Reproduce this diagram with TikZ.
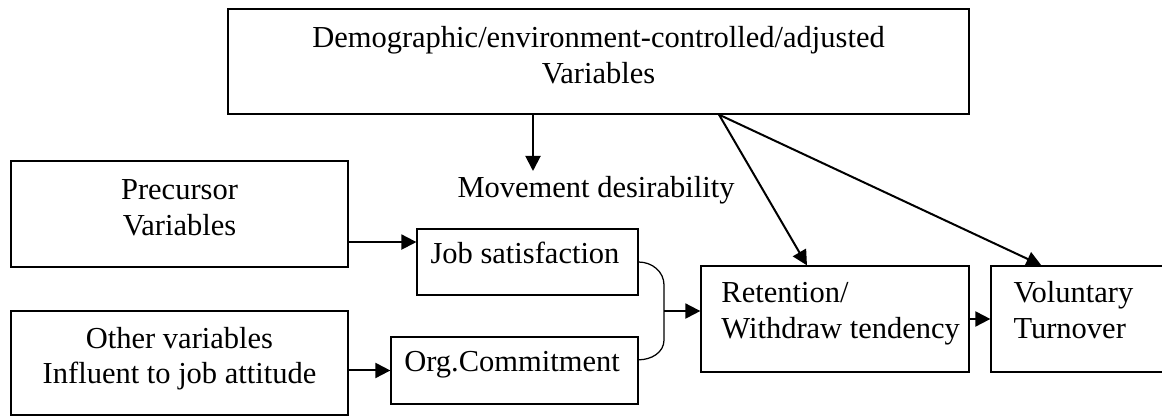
\documentclass[tikz,border=0pt]{standalone}
\usepackage{fontspec}
\setmainfont{Liberation Serif}
\usetikzlibrary{arrows.meta,calc}
\begin{document}
\begin{tikzpicture}[font=\fontsize{12.2}{14.4}\selectfont,>={Triangle[length=6pt,width=6pt]},
  box/.style={draw,line width=0.5pt,inner sep=0pt},
  txt/.style={anchor=base,align=center,inner sep=0pt},
  arr/.style={->,line width=0.8pt}]
\useasboundingbox (0,0) rectangle (16.338,5.849);
\node[box,minimum width=10.418cm,minimum height=1.476cm] (demo) at (8.415,4.984) {};
\node[txt] (demotxt) at (8.415,4.682) {Demographic/environment-controlled/adjusted\\Variables};
\node[txt] (move) at (8.380,3.079) {Movement desirability};
\node[box,minimum width=4.738cm,minimum height=1.490cm] (prec) at (2.524,2.840) {};
\node[txt] (prectxt) at (2.524,2.531) {Precursor\\Variables};
\node[box,minimum width=4.738cm,minimum height=1.462cm] (other) at (2.524,0.745) {};
\node[txt] (othertxt) at (2.524,0.450) {Other variables\\Influent to job attitude};
\node[box,minimum width=3.107cm,minimum height=0.928cm] (jobsat) at (7.417,2.165) {};
\node[txt] (jobsattxt) at (7.382,2.151) {Job satisfaction};
\node[box,minimum width=3.473cm,minimum height=0.942cm] (orgcom) at (7.234,0.640) {};
\node[txt] (orgcomtxt) at (7.199,0.619) {Org.Commitment};
\node[box,minimum width=3.768cm,minimum height=1.490cm] (retain) at (11.740,1.364) {};
\node[txt,anchor=base west,align=left] (retaintxt) at (10.137,1.083) {Retention/\\Withdraw tendency};
\node[box,minimum width=2.657cm,minimum height=1.490cm] (volun) at (15.262,1.364) {};
\node[txt,anchor=base west,align=left] (voluntxt) at (14.243,1.083) {Voluntary\\Turnover};
\coordinate (mvtip) at (7.494,3.445);
\coordinate (fork) at ($(demo.south)+(1.694,0)$);
\coordinate (join) at (9.336,1.476);
\draw[arr] (demo.south -| mvtip) -- (mvtip);
\draw[arr] (fork) -- ($(retain.north)+(-0.394,0)$);
\draw[arr] (fork) -- ($(volun.north west)+(0.717,0)$);
\draw[arr] ([yshift=-3.94mm]prec.east) -- ([yshift=-3.94mm]prec.east -| jobsat.west);
\draw[arr] (other.east |- orgcom.west) -- (orgcom.west);
\draw[line width=0.5pt] (jobsat.east) to[out=0,in=90] (9.336,1.842) -- (9.336,1.069) to[out=-90,in=0] ([yshift=1.5mm]orgcom.east);
\draw[arr] (join) -- (retain.west |- join);
\draw[arr] (retain.east) -- (volun.west);
\end{tikzpicture}
\end{document}
